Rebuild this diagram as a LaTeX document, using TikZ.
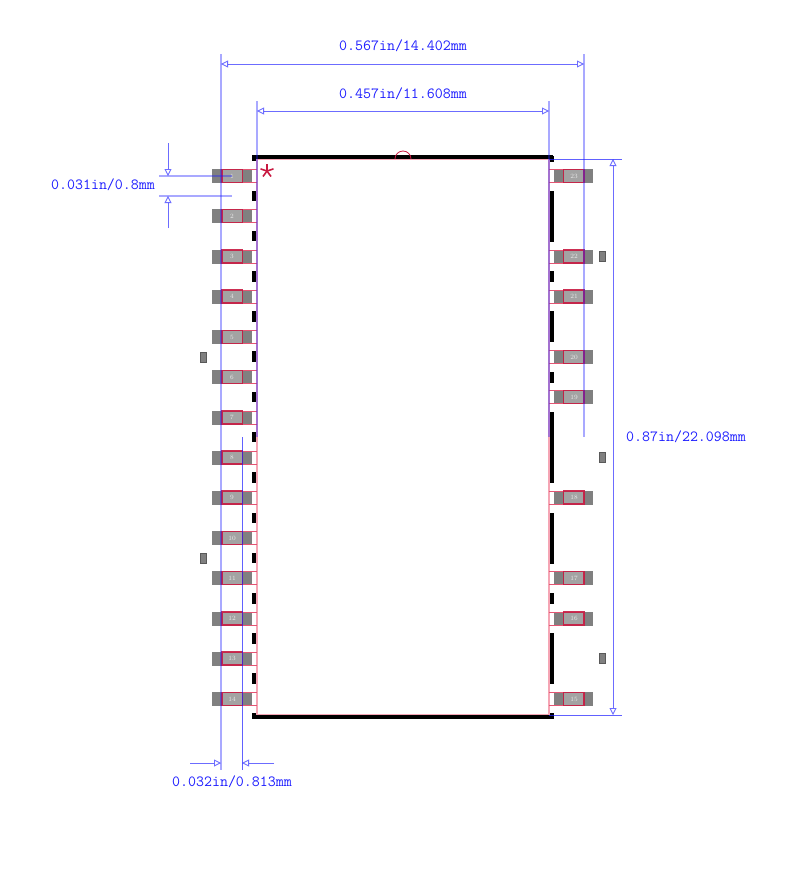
\documentclass[tikz,border=0pt]{standalone}
\usetikzlibrary{arrows.meta}
\definecolor{dimblue}{RGB}{30,30,255}
\definecolor{padred}{RGB}{200,25,65}
\definecolor{tailred}{RGB}{228,85,115}
\definecolor{bodypink}{RGB}{245,165,180}
\definecolor{extblue}{RGB}{165,165,255}
\tikzset{
 x=1pt,y=-1pt,
 padbody/.style={fill=black!50},
 padcore/.style={fill=black!36},
 padline/.style={draw=padred,line width=1.2pt,opacity=.9},
 padtail/.style={draw=tailred,line width=1pt},
 padtext/.style={text=white!92!black,font=\fontsize{6.5}{6.5}\selectfont,inner sep=0pt},
 bar/.style={fill=black},
 extline/.style={draw=dimblue,line width=2pt,opacity=.38},
 thinext/.style={draw=dimblue,line width=1pt,opacity=.7},
 dimline/.style={draw=dimblue,line width=1pt,opacity=.65},
 dimarrow/.style={dimline,-{Triangle[open,length=7pt,width=7pt,line width=.9pt]}},
 dimboth/.style={dimline,{Triangle[open,length=7pt,width=7pt,line width=.9pt]}-{Triangle[open,length=7pt,width=7pt,line width=.9pt]}},
 dimtext/.style={text=dimblue,font=\ttfamily\fontsize{15.5}{16}\selectfont,inner sep=0pt},
 viapad/.style={fill=black!50,draw=black!65,line width=.8pt},
 bodyline/.style={draw=bodypink,line width=1.8pt}
}
\begin{document}
\begin{tikzpicture}
\useasboundingbox (0,0) rectangle (800,878);
\fill[white] (0,0) rectangle (800,878);
% package body
\draw[bodyline] (257,159) rectangle (549,715);
% left pads
\foreach \n/\y in {1/176,2/216,3/256.5,4/296.5,5/337,6/377,7/417.5,8/457.5,9/497.5,10/538,11/578,12/618.5,13/658.5,14/699}{
 \fill[padbody] (212,\y-7) rectangle (252,\y+7);
 \fill[padcore] (222,\y-7) rectangle (242,\y+7);
 \draw[padtail] (242.5,\y-6.5) -- (257,\y-6.5) (242.5,\y+6.5) -- (257,\y+6.5);
 \draw[padline] (222,\y-6.5) rectangle (242.5,\y+6.5);
 \node[padtext] (L\n) at (232,\y) {\n};
}
% right pads
\foreach \n/\y in {23/176,22/256.5,21/296.5,20/357,19/397,18/497.5,17/578,16/618.5,15/699}{
 \fill[padbody] (554,\y-7) rectangle (593,\y+7);
 \fill[padcore] (564,\y-7) rectangle (584,\y+7);
 \draw[padtail] (563.5,\y-6.5) -- (549,\y-6.5) (563.5,\y+6.5) -- (549,\y+6.5);
 \draw[padline] (563.5,\y-6.5) rectangle (584,\y+6.5);
 \node[padtext] (R\n) at (574,\y) {\n};
}
% small side pads
\foreach \x/\y in {203.5/357,203.5/558,602.5/256.5,602.5/457.5,602.5/658.5}
 \draw[viapad] (\x-3.2,\y-5) rectangle (\x+3.2,\y+5);
% silkscreen
\fill[bar] (253,155) rectangle (553,159);
\fill[bar] (253,715) rectangle (553,719);
\fill[bar] (252,155) rectangle (256,161);
\fill[bar] (550,156) rectangle (553.5,162);
\fill[bar] (252,713) rectangle (256,719);
\fill[bar] (550,713) rectangle (553.5,719);
\foreach \a/\b in {191/201,231/241,271/282,311/322,351/362,392/402,432/442,472/483,513/523,553/563,593/604,633/644,673/684}
 \fill[bar] (252,\a) rectangle (256,\b);
\foreach \a/\b in {191/242,271/282,311/342,372/383,412/483,513/564,593/604,633/684}
 \fill[bar] (550,\a) rectangle (553.5,\b);
% notch and marker
\draw[padred,line width=.8pt] (395,159) arc[start angle=180,end angle=360,radius=8];
\foreach \a in {90,162,234,306,18}
 \draw[padred,line width=1.6pt] (267,171) -- ++({6.8*cos(\a)},{-6.8*sin(\a)});
% dimension coordinates
\coordinate (a1) at (221,54); \coordinate (a2) at (221,770);
\coordinate (b1) at (257,101); \coordinate (b2) at (257,437);
\coordinate (c1) at (549,101); \coordinate (c2) at (549,437);
\coordinate (d1) at (584,54); \coordinate (d2) at (584,437);
\coordinate (e1) at (242,437); \coordinate (e2) at (242,770);
\draw[extline] (a1) -- (a2);
\draw[extline] (b1) -- (b2);
\draw[extline] (c1) -- (c2);
\draw[extline] (d1) -- (d2);
\draw[thinext] (e1) -- (e2);
\coordinate (ah1) at (221,64); \coordinate (ah2) at (584,64);
\draw[dimboth] (ah1) -- (ah2);
\coordinate (bh1) at (257,111); \coordinate (bh2) at (549,111);
\draw[dimboth] (bh1) -- (bh2);
\node[dimtext] (w1) at (403,45.5) {0.567in/14.402mm};
\node[dimtext] (w2) at (403,93.5) {0.457in/11.608mm};
% height
\coordinate (t1) at (549,159); \coordinate (t2) at (622,159);
\coordinate (u1) at (549,715); \coordinate (u2) at (622,715);
\draw[thinext] (t1) -- (t2);
\draw[thinext] (u1) -- (u2);
\coordinate (vt) at (613,159); \coordinate (vb) at (613,715);
\draw[dimboth] (vt) -- (vb);
\node[dimtext] (h) at (686,437) {0.87in/22.098mm};
% pitch
\coordinate (p1) at (159,176); \coordinate (p2) at (232,176);
\coordinate (q1) at (159,196); \coordinate (q2) at (232,196);
\draw[extline,line width=1.3pt] (p1) -- (p2);
\draw[extline,line width=1.3pt] (q1) -- (q2);
\coordinate (pa) at (168,143); \coordinate (pb) at (168,176);
\coordinate (qa) at (168,228); \coordinate (qb) at (168,196);
\draw[dimarrow] (pa) -- (pb);
\draw[dimarrow] (qa) -- (qb);
\node[dimtext] (pt) at (103,185) {0.031in/0.8mm};
% width of pad
\coordinate (ra) at (190,763); \coordinate (rb) at (221,763);
\coordinate (sa) at (274,763); \coordinate (sb) at (242,763);
\draw[dimarrow] (ra) -- (rb);
\draw[dimarrow] (sa) -- (sb);
\node[dimtext] (wt) at (232,781.5) {0.032in/0.813mm};
\end{tikzpicture}
\end{document}
